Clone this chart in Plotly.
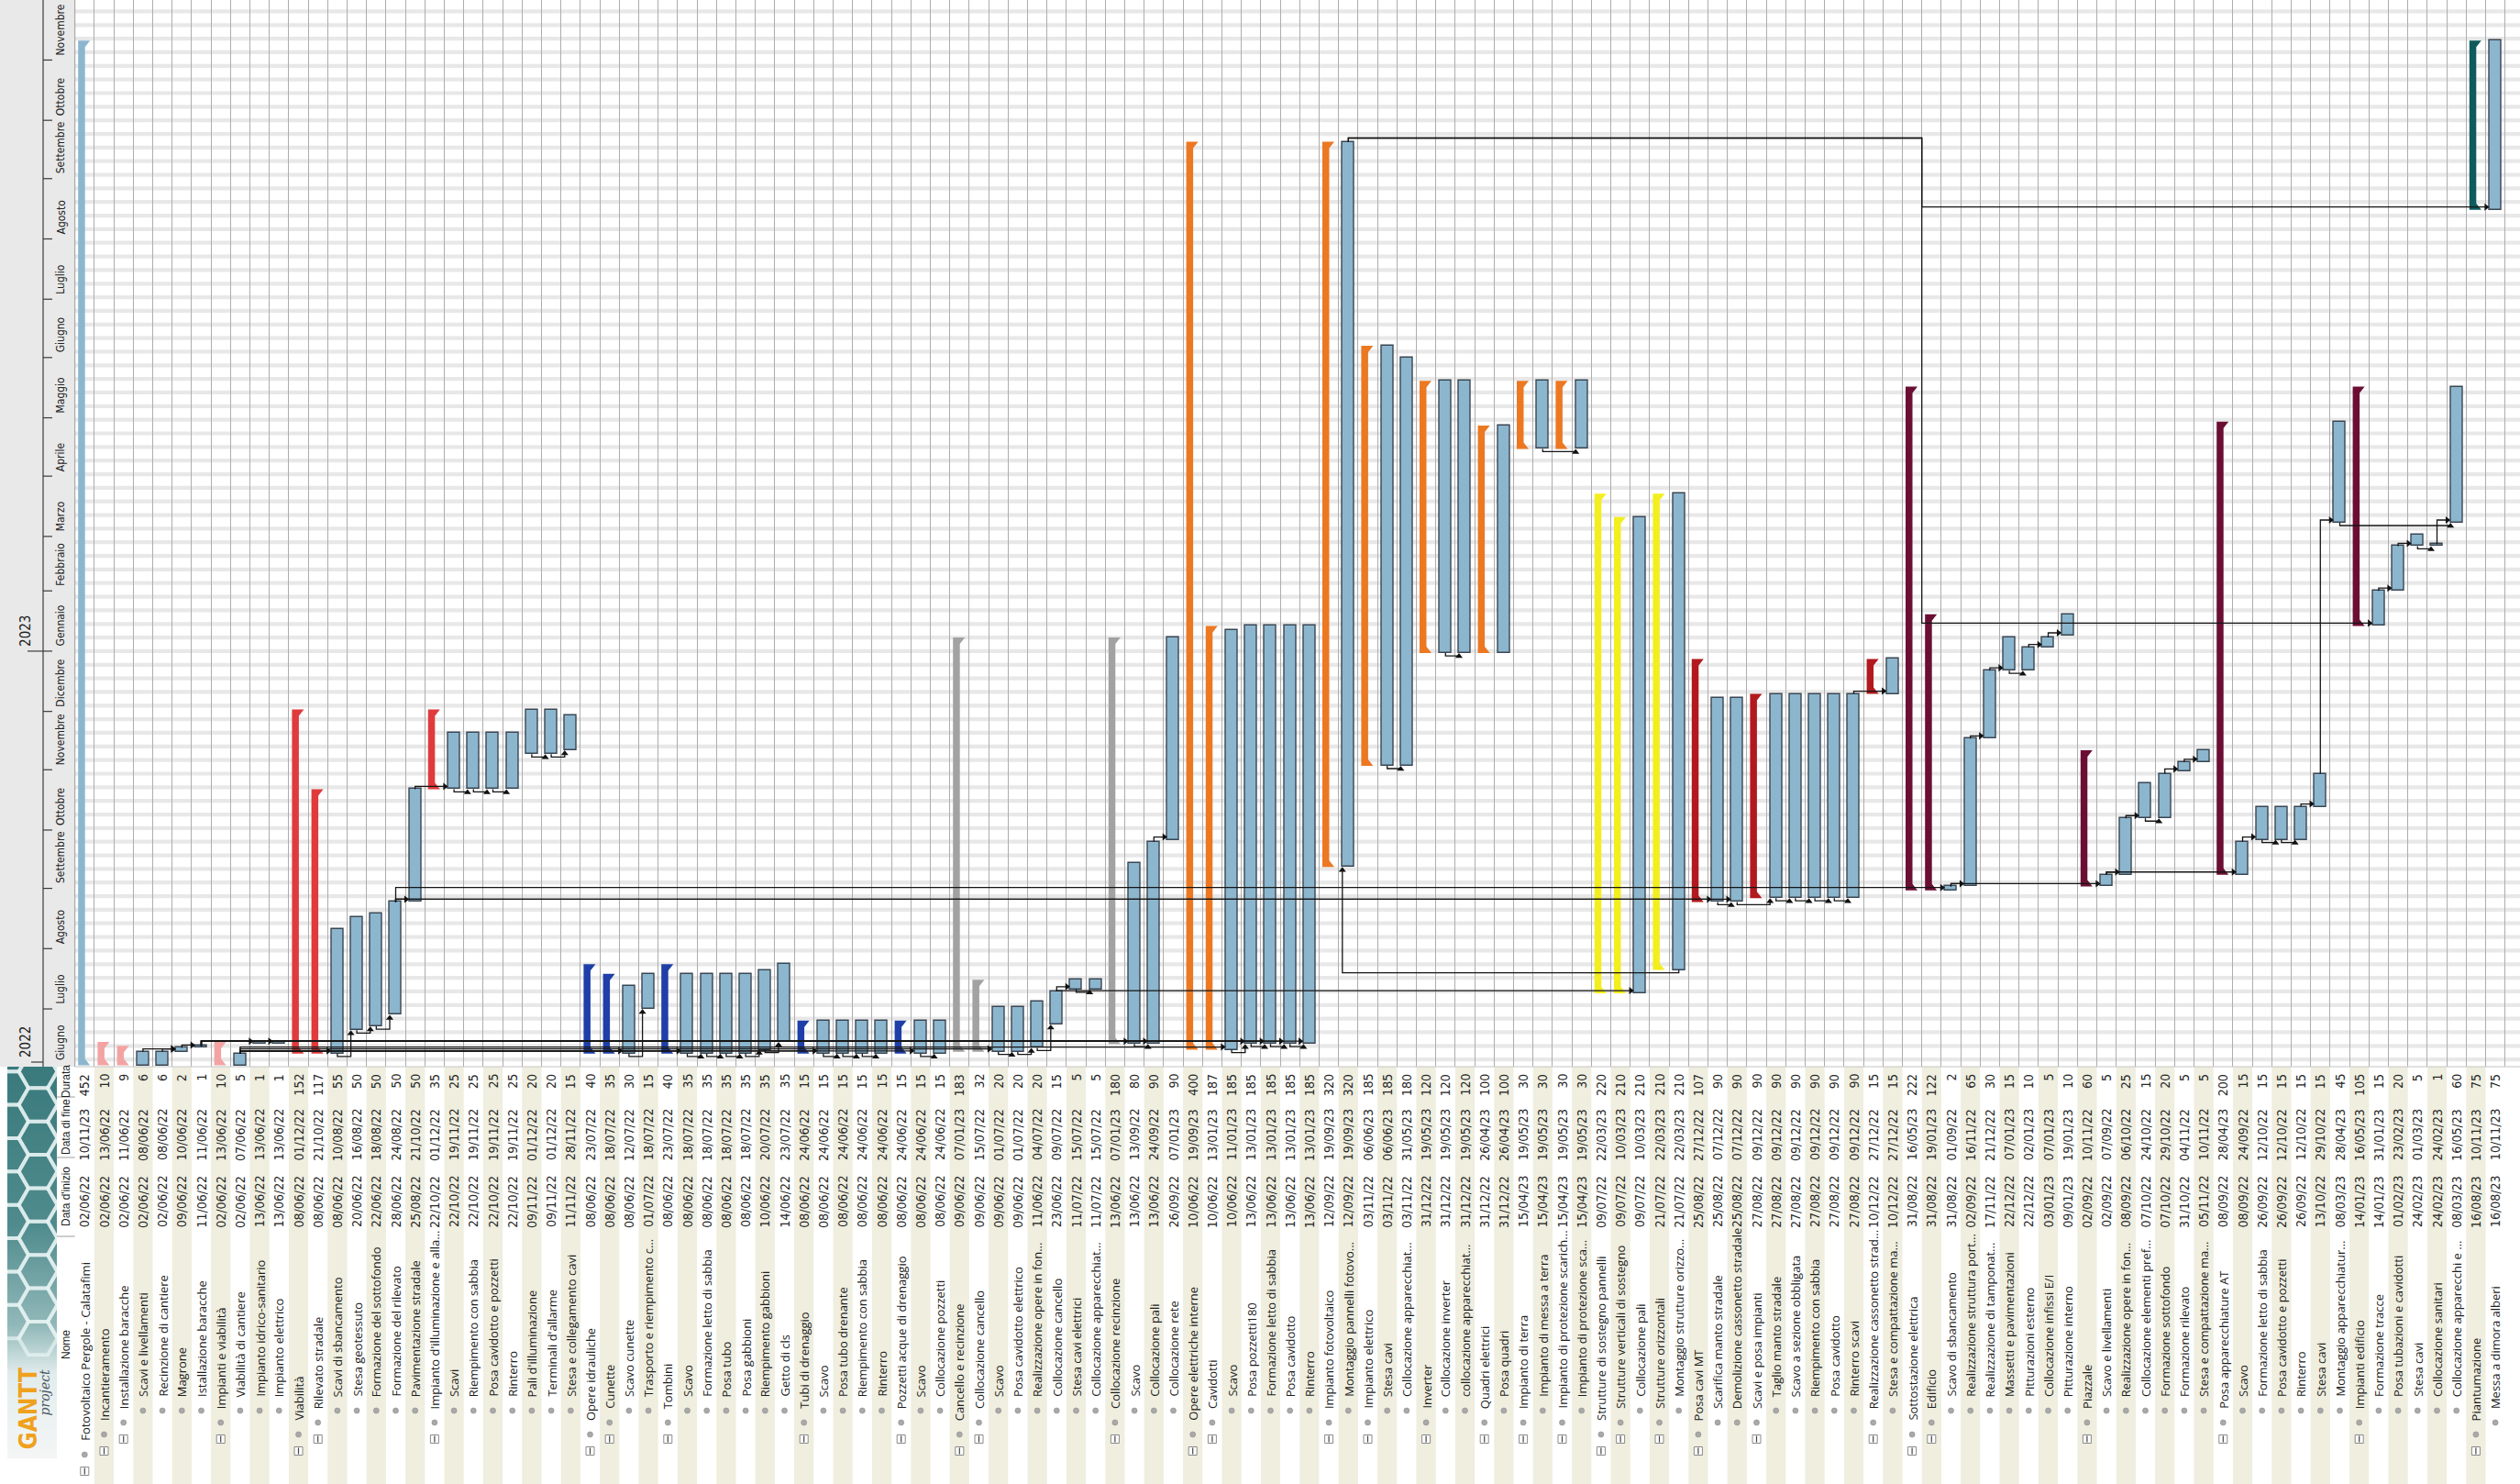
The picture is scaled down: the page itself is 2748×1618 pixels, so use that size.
import datetime as dt
import math
import plotly.graph_objects as go

W, H = 2748, 1618

# ---------------- project data ----------------
names = [
    "Fotovoltaico Pergole - Calatafimi", "Incantieramento", "Installazione baracche",
    "Scavi e livellamenti", "Recinzione di cantiere", "Magrone", "Istallazione baracche",
    "Impianti e viabilità", "Viabilità di cantiere", "Impianto idrico-sanitario", "Impianto elettrico",
    "Viabilità", "Rilevato stradale", "Scavi di sbancamento", "Stesa geotessuto",
    "Formazione del sottofondo", "Formazione del rilevato", "Pavimentazione stradale",
    "Impianto d'illuminazione e alla...", "Scavi", "Riempimento con sabbia", "Posa cavidotto e pozzetti",
    "Rinterro", "Pali d'illuminazione", "Terminali d'allarme", "Stesa e collegamento cavi",
    "Opere idrauliche", "Cunette", "Scavo cunette", "Trasporto e riempimento c...", "Tombini",
    "Scavo", "Formazione letto di sabbia", "Posa tubo", "Posa gabbioni", "Riempimento gabbioni",
    "Getto di cls", "Tubi di drenaggio", "Scavo", "Posa tubo drenante", "Riempimento con sabbia",
    "Rinterro", "Pozzetti acque di drenaggio", "Scavo", "Collocazione pozzetti",
    "Cancello e recinzione", "Collocazione cancello", "Scavo", "Posa cavidotto elettrico",
    "Realizzazione opere in fon...", "Collocazione cancello", "Stesa cavi elettrici",
    "Collocazione apparecchiat...", "Collocazione recinzione", "Scavo", "Collocazione pali",
    "Collocazione rete", "Opere elettriche interne", "Cavidotti", "Scavo", "Posa pozzetti180",
    "Formazione letto di sabbia", "Posa cavidotto", "Rinterro", "Impianto fotovoltaico",
    "Montaggio pannelli fotovo...", "Impianto elettrico", "Stesa cavi", "Collocazione apparecchiat...",
    "Inverter", "Collocazione inverter", "collocazione apparecchiat...", "Quadri elettrici",
    "Posa quadri", "Impianto di terra", "Impianto di messa a terra", "Impianto di protezione scarich...",
    "Impianto di protezione sca...", "Strutture di sostegno pannelli", "Strutture verticali di sostegno",
    "Collocazione pali", "Strutture orizzontali", "Montaggio strutture orizzo...", "Posa cavi MT",
    "Scarifica manto stradale", "Demolizione cassonetto stradale", "Scavi e posa impianti",
    "Taglio manto stradale", "Scavo a sezione obbligata", "Riempimento con sabbia", "Posa cavidotto",
    "Rinterro scavi", "Realizzazione cassonetto strad...", "Stesa e compattazione ma...",
    "Sottostazione elettrica", "Edificio", "Scavo di sbancamento", "Realizzazione struttura port...",
    "Realizzazione di tamponat...", "Massetti e pavimentazioni", "Pitturazioni esterno",
    "Collocazione infissi E/I", "Pitturazione interno", "Piazzale", "Scavo e livellamenti",
    "Realizzazione opere in fon...", "Collocazione elementi pref...", "Formazione sottofondo",
    "Formazione rilevato", "Stesa e compattazione ma...", "Posa apparecchiature AT", "Scavo",
    "Formazione letto di sabbia", "Posa cavidotto e pozzetti", "Rinterro", "Stesa cavi",
    "Montaggio apparecchiatur...", "Impianti edificio", "Formazione tracce",
    "Posa tubazioni e cavidotti", "Stesa cavi", "Collocazione sanitari",
    "Collocazione apparecchi e ...", "Piantumazione", "Messa a dimora alberi",
]

levels = [0, 1, 2, 3, 3, 3, 3, 2, 3, 3, 3,
          1, 2, 3, 3, 3, 3, 3, 2, 3, 3, 3, 3, 3, 3, 3,
          1, 2, 3, 3, 2, 3, 3, 3, 3, 3, 3, 2, 3, 3, 3, 3, 2, 3, 3,
          1, 2, 3, 3, 3, 3, 3, 3, 2, 3, 3, 3,
          1, 2, 3, 3, 3, 3, 3, 2, 3, 2, 3, 3, 2, 3, 3, 2, 3, 2, 3, 2, 3,
          1, 2, 3, 2, 3,
          1, 2, 2, 2, 3, 3, 3, 3, 3, 2, 3,
          1, 2, 3, 3, 3, 3, 3, 3, 3, 2, 3, 3, 3, 3, 3, 3, 2, 3, 3, 3, 3, 3, 3, 2, 3, 3, 3, 3, 3,
          1, 2]

starts = [
    "02/06/22", "02/06/22", "02/06/22", "02/06/22", "02/06/22", "09/06/22", "11/06/22", "02/06/22",
    "02/06/22", "13/06/22", "13/06/22",
    "08/06/22", "08/06/22", "08/06/22", "20/06/22", "22/06/22", "28/06/22", "25/08/22", "22/10/22",
    "22/10/22", "22/10/22", "22/10/22", "22/10/22", "09/11/22", "09/11/22", "11/11/22",
    "08/06/22", "08/06/22", "08/06/22", "01/07/22", "08/06/22", "08/06/22", "08/06/22", "08/06/22",
    "08/06/22", "10/06/22", "14/06/22", "08/06/22", "08/06/22", "08/06/22", "08/06/22", "08/06/22",
    "08/06/22", "08/06/22", "08/06/22",
    "09/06/22", "09/06/22", "09/06/22", "09/06/22", "11/06/22", "23/06/22", "11/07/22", "11/07/22",
    "13/06/22", "13/06/22", "13/06/22", "26/09/22",
    "10/06/22", "10/06/22", "10/06/22", "13/06/22", "13/06/22", "13/06/22", "13/06/22", "12/09/22",
    "12/09/22", "03/11/22", "03/11/22", "03/11/22", "31/12/22", "31/12/22", "31/12/22", "31/12/22",
    "31/12/22", "15/04/23", "15/04/23", "15/04/23", "15/04/23",
    "09/07/22", "09/07/22", "09/07/22", "21/07/22", "21/07/22",
    "25/08/22", "25/08/22", "25/08/22", "27/08/22", "27/08/22", "27/08/22", "27/08/22", "27/08/22",
    "27/08/22", "10/12/22", "10/12/22",
    "31/08/22", "31/08/22", "31/08/22", "02/09/22", "17/11/22", "22/12/22", "22/12/22", "03/01/23",
    "09/01/23", "02/09/22", "02/09/22", "08/09/22", "07/10/22", "07/10/22", "31/10/22", "05/11/22",
    "08/09/22", "08/09/22", "26/09/22", "26/09/22", "26/09/22", "13/10/22", "08/03/23", "14/01/23",
    "14/01/23", "01/02/23", "24/02/23", "24/02/23", "08/03/23",
    "16/08/23", "16/08/23",
]

ends = [
    "10/11/23", "13/06/22", "11/06/22", "08/06/22", "08/06/22", "10/06/22", "11/06/22", "13/06/22",
    "07/06/22", "13/06/22", "13/06/22",
    "01/12/22", "21/10/22", "10/08/22", "16/08/22", "18/08/22", "24/08/22", "21/10/22", "01/12/22",
    "19/11/22", "19/11/22", "19/11/22", "19/11/22", "01/12/22", "01/12/22", "28/11/22",
    "23/07/22", "18/07/22", "12/07/22", "18/07/22", "23/07/22", "18/07/22", "18/07/22", "18/07/22",
    "18/07/22", "20/07/22", "23/07/22", "24/06/22", "24/06/22", "24/06/22", "24/06/22", "24/06/22",
    "24/06/22", "24/06/22", "24/06/22",
    "07/01/23", "15/07/22", "01/07/22", "01/07/22", "04/07/22", "09/07/22", "15/07/22", "15/07/22",
    "07/01/23", "13/09/22", "24/09/22", "07/01/23",
    "19/09/23", "13/01/23", "11/01/23", "13/01/23", "13/01/23", "13/01/23", "13/01/23", "19/09/23",
    "19/09/23", "06/06/23", "06/06/23", "31/05/23", "19/05/23", "19/05/23", "19/05/23", "26/04/23",
    "26/04/23", "19/05/23", "19/05/23", "19/05/23", "19/05/23",
    "22/03/23", "10/03/23", "10/03/23", "22/03/23", "22/03/23",
    "27/12/22", "07/12/22", "07/12/22", "09/12/22", "09/12/22", "09/12/22", "09/12/22", "09/12/22",
    "09/12/22", "27/12/22", "27/12/22",
    "16/05/23", "19/01/23", "01/09/22", "16/11/22", "21/12/22", "07/01/23", "02/01/23", "07/01/23",
    "19/01/23", "10/11/22", "07/09/22", "06/10/22", "24/10/22", "29/10/22", "04/11/22", "10/11/22",
    "28/04/23", "24/09/22", "12/10/22", "12/10/22", "12/10/22", "29/10/22", "28/04/23", "16/05/23",
    "31/01/23", "23/02/23", "01/03/23", "24/02/23", "16/05/23",
    "10/11/23", "10/11/23",
]

durations = [452, 10, 9, 6, 6, 2, 1, 10, 5, 1, 1,
             152, 117, 55, 50, 50, 50, 50, 35, 25, 25, 25, 25, 20, 20, 15,
             40, 35, 30, 15, 40, 35, 35, 35, 35, 35, 35, 15, 15, 15, 15, 15, 15, 15, 15,
             183, 32, 20, 20, 20, 15, 5, 5, 180, 80, 90, 90,
             400, 187, 185, 185, 185, 185, 185, 320, 320, 185, 185, 180, 120, 120, 120, 100, 100,
             30, 30, 30, 30,
             220, 210, 210, 210, 210,
             107, 90, 90, 90, 90, 90, 90, 90, 90, 15, 15,
             222, 122, 2, 65, 30, 15, 10, 5, 10, 60, 5, 25, 15, 20, 5, 5, 200, 15, 15, 15, 15, 15, 45,
             105, 15, 20, 5, 1, 60,
             75, 75]

# task links: (predecessor row, successor row, type)
deps = [
    (4, 6, "FS"), (5, 6, "FS"), (6, 7, "FS"), (7, 10, "FS"), (7, 11, "FS"),
    (9, 14, "FS"), (9, 29, "FS"), (9, 32, "FS"), (9, 39, "FS"), (9, 44, "FS"), (9, 48, "FS"), (9, 60, "FS"),
    (7, 55, "FS"), (7, 56, "FS"), (7, 61, "FS"), (7, 62, "FS"), (7, 63, "FS"), (7, 64, "FS"),
    (14, 15, "SS"), (15, 16, "SS"), (16, 17, "SS"), (17, 18, "FS"),
    (17, 85, "FS"), (17, 86, "FS"), (17, 97, "FS"),
    (18, 20, "FS"), (20, 21, "SS"), (21, 22, "SS"), (22, 23, "SS"), (24, 25, "SS"), (25, 26, "SS"),
    (29, 30, "SS"),
    (32, 33, "SS"), (33, 34, "SS"), (34, 35, "SS"), (35, 36, "SS"), (36, 37, "SS"),
    (39, 40, "SS"), (40, 41, "SS"), (41, 42, "SS"), (44, 45, "SS"),
    (48, 49, "SS"), (49, 50, "SS"), (50, 51, "SS"), (51, 52, "FS"), (52, 53, "SS"),
    (55, 56, "SS"), (56, 57, "FS"),
    (60, 61, "SS"), (61, 62, "SS"), (62, 63, "SS"), (63, 64, "SS"),
    (51, 81, "FS"), (83, 66, "SS"), (68, 69, "SS"), (71, 72, "SS"), (76, 78, "SS"),
    (85, 86, "SS"), (86, 88, "SS"), (88, 89, "SS"), (89, 90, "SS"), (90, 91, "SS"), (91, 92, "SS"),
    (92, 94, "FS"),
    (97, 98, "FS"), (98, 99, "FS"), (99, 100, "FS"), (100, 101, "SS"), (101, 102, "FS"), (102, 103, "FS"),
    (97, 105, "FS"), (105, 106, "FS"), (106, 107, "FS"), (107, 108, "SS"), (108, 109, "FS"), (109, 110, "FS"),
    (105, 112, "FS"), (112, 113, "FS"), (113, 114, "SS"), (114, 115, "SS"), (115, 116, "FS"), (116, 117, "FS"),
    (119, 120, "FS"), (120, 121, "FS"), (121, 122, "SS"), (122, 123, "FS"), (117, 123, "SS"),
    (66, 119, "FS"), (66, 125, "FS"),
]

group_colors = {
    "Incantieramento": "#f4a3a3",
    "Viabilità": "#e03a3c",
    "Opere idrauliche": "#1f3ea8",
    "Cancello e recinzione": "#a2a2a2",
    "Opere elettriche interne": "#ec7822",
    "Strutture di sostegno pannelli": "#f3ee1e",
    "Posa cavi MT": "#b2191e",
    "Sottostazione elettrica": "#6b0e33",
    "Piantumazione": "#0f5b5c",
}
TASK_COLOR = "#8cb6ce"
TASK_EDGE = "#3a4653"

MONTHS_IT = ["Gennaio", "Febbraio", "Marzo", "Aprile", "Maggio", "Giugno", "Luglio",
             "Agosto", "Settembre", "Ottobre", "Novembre", "Dicembre"]

# ---------------- geometry ----------------
N = len(names)
assert len(levels) == N and len(starts) == N and len(ends) == N and len(durations) == N


def parse(d):
    dd, mm, yy = d.split("/")
    return dt.datetime(2000 + int(yy), int(mm), int(dd))


S = {i + 1: parse(d) for i, d in enumerate(starts)}
E1 = {i + 1: parse(d) + dt.timedelta(days=1) for i, d in enumerate(ends)}

ROW0 = 81.7       # left edge of the first task column (px)
RP = 21.2         # width of one task column (px)
PXD = 2.12        # px per day on the time axis
D0 = dt.datetime(2022, 6, 2)
Y0PX = 1161.5     # screen row of D0
CH_BOT = 1163     # bottom edge of the timeline area (px)
XMAX = 0.5 + (W - ROW0) / RP
BAR_W = 13 / RP


def px2date(px):
    return D0 + dt.timedelta(days=(Y0PX - px) / PXD)


def xu(px):
    return px / RP


def du(px):
    return dt.timedelta(days=px / PXD)


is_sum = [i < N - 1 and levels[i + 1] > levels[i] for i in range(N)]
row_color = []
cur = None
for i in range(N):
    if levels[i] == 1:
        cur = names[i]
    row_color.append(TASK_COLOR if levels[i] == 0 else group_colors[cur])

fig = go.Figure()

# ---------------- leaf task bars ----------------
leaf = [i + 1 for i in range(N) if not is_sum[i]]
fig.add_trace(go.Bar(
    x=leaf,
    base=[S[r] for r in leaf],
    y=[(E1[r] - S[r]).total_seconds() * 1000 for r in leaf],
    width=BAR_W,
    marker=dict(color=TASK_COLOR, line=dict(color=TASK_EDGE, width=1.4)),
    hoverinfo="skip", xaxis="x", yaxis="y",
))

# ---------------- summary brackets ----------------
poly = {}
for i in range(N):
    if not is_sum[i]:
        continue
    r = i + 1
    c = row_color[i]
    xl = r - 0.5 + xu(3.5)
    xb = r - 0.5 + xu(11)
    xt = r - 0.5 + xu(16.5)
    ys, ye = S[r], E1[r]
    h = du(7)
    xs = [xl, xl, xt, xb, xb, xt, xl, None]
    yv = [ys, ye, ye, ye - h, ys + h, ys, ys, None]
    px_, py_ = poly.setdefault(c, ([], []))
    px_.extend(xs)
    py_.extend(yv)
for c, (xs, yv) in poly.items():
    fig.add_trace(go.Scatter(x=xs, y=yv, mode="lines", fill="toself", fillcolor=c,
                             line=dict(width=0, color=c), hoverinfo="skip",
                             xaxis="x", yaxis="y"))

# ---------------- dependency links ----------------
lx, ly, ax_r, ay_r, ax_u, ay_u = [], [], [], [], [], []
reach = {}
for p, s, k in deps:
    if k == "FS" and S[s] < E1[p] - dt.timedelta(days=1):
        reach[p] = max(reach.get(p, s), s)
half = BAR_W / 2
for p, s, k in deps:
    sl = s - half
    if k == "FS":
        pe = E1[p]
        ys = S[s] + du(3)
        if S[s] >= pe - dt.timedelta(days=1):
            pts = [(p, pe), (p, ys), (sl - xu(4), ys)]
        else:
            mx = (p + reach[p]) / 2
            yt = pe + du(4)
            pts = [(p, pe), (p, yt), (mx, yt), (mx, ys), (sl - xu(4), ys)]
        ax_r.append(sl - xu(3.5))
        ay_r.append(ys)
    else:
        y0 = min(S[p], S[s]) - du(3)
        pts = [(p, S[p]), (p, y0), (sl, y0), (sl, S[s] - du(3))]
        ax_u.append(sl)
        ay_u.append(S[s] - du(3.5))
    for a, b in pts:
        lx.append(a)
        ly.append(b)
    lx.append(None)
    ly.append(None)

fig.add_trace(go.Scatter(x=lx, y=ly, mode="lines", line=dict(color="#151515", width=1.3),
                         hoverinfo="skip", xaxis="x", yaxis="y"))
fig.add_trace(go.Scatter(x=ax_r, y=ay_r, mode="markers",
                         marker=dict(symbol="triangle-right", size=7, color="#111"),
                         hoverinfo="skip", xaxis="x", yaxis="y"))
fig.add_trace(go.Scatter(x=ax_u, y=ay_u, mode="markers",
                         marker=dict(symbol="triangle-up", size=7, color="#111"),
                         hoverinfo="skip", xaxis="x", yaxis="y"))

shapes = []
annotations = []

# weekend shading across the timeline
d = D0 - dt.timedelta(days=(D0.weekday() - 5) % 7)
top = px2date(0)
while d < top:
    shapes.append(dict(type="rect", xref="x", yref="y", x0=0.5, x1=XMAX, y0=d,
                       y1=d + dt.timedelta(days=2), fillcolor="#e8e8e8", line=dict(width=0),
                       layer="below"))
    d += dt.timedelta(days=7)

# ---------------- timeline header (left strip) ----------------
shapes.append(dict(type="rect", xref="paper", yref="paper", x0=0, x1=ROW0 / W,
                   y0=1 - CH_BOT / H, y1=1, fillcolor="#e9e9e9", line=dict(width=0), layer="below"))
shapes.append(dict(type="line", xref="paper", yref="paper", x0=47 / W, x1=47 / W,
                   y0=1 - CH_BOT / H, y1=1, line=dict(color="#3a3a3a", width=1.2)))
shapes.append(dict(type="line", xref="paper", yref="paper", x0=ROW0 / W, x1=ROW0 / W,
                   y0=1 - CH_BOT / H, y1=1, line=dict(color="#9a9a9a", width=1)))

TL_FONT = "Liberation Sans Narrow, DejaVu Sans Condensed, Arial Narrow, sans-serif"
m = dt.datetime(2022, 6, 1)
while m <= dt.datetime(2023, 11, 1):
    annotations.append(dict(x=66 / W, xref="paper", y=max(m, D0) + du(3), yref="y",
                            text=MONTHS_IT[m.month - 1], textangle=-90, showarrow=False,
                            xanchor="center", yanchor="bottom",
                            font=dict(family=TL_FONT, size=12, color="#222")))
    if m > D0:
        x0 = 30 if m.month == 1 else 47
        shapes.append(dict(type="line", xref="paper", yref="y", x0=x0 / W, x1=57 / W,
                           y0=m, y1=m, line=dict(color="#3a3a3a", width=1.2)))
    m = dt.datetime(m.year + (m.month // 12), m.month % 12 + 1, 1)

shapes.append(dict(type="line", xref="paper", yref="y", x0=34 / W, x1=47 / W,
                   y0=px2date(1158), y1=px2date(1158), line=dict(color="#3a3a3a", width=1.2)))
for yr, ydate in (("2022", px2date(1158)), ("2023", dt.datetime(2023, 1, 1))):
    annotations.append(dict(x=28 / W, xref="paper", y=ydate + du(3), yref="y", text=yr,
                            textangle=-90, showarrow=False, xanchor="center", yanchor="bottom",
                            font=dict(family=TL_FONT, size=15, color="#222")))

# ---------------- task table (bottom strip) ----------------
NAME_FONT = "Open Sans, Noto Sans, sans-serif"
NUM_FONT = "Liberation Sans Narrow, DejaVu Sans Condensed, Arial Narrow, sans-serif"
HEAD_FONT = "Liberation Sans, Arial, sans-serif"

for r in range(2, N + 1, 2):
    shapes.append(dict(type="rect", xref="x2", yref="y2", x0=r - 0.5, x1=r + 0.5, y0=CH_BOT,
                       y1=H, fillcolor="#efeedf", line=dict(width=0), layer="below"))
shapes.append(dict(type="line", xref="paper", yref="paper", x0=ROW0 / W, x1=1,
                   y0=1 - CH_BOT / H, y1=1 - CH_BOT / H, line=dict(color="#c4c4c4", width=1)))

TEXT_START = {0: 1573, 1: 1551, 2: 1538, 3: 1525}
bx, by, sx, sy = [], [], [], []
for i in range(N):
    r = i + 1
    lv = levels[i]
    t0 = TEXT_START[lv]
    annotations.append(dict(x=r, xref="x2", y=t0, yref="y2", text=names[i], textangle=-90,
                            showarrow=False, xanchor="center", yanchor="bottom",
                            font=dict(family=NAME_FONT, size=13, color="#1c1c1c")))
    annotations.append(dict(x=r, xref="x2", y=1310, yref="y2", text=starts[i], textangle=-90,
                            showarrow=False, xanchor="center", yanchor="middle",
                            font=dict(family=NUM_FONT, size=14, color="#262626")))
    annotations.append(dict(x=r, xref="x2", y=1237, yref="y2", text=ends[i], textangle=-90,
                            showarrow=False, xanchor="center", yanchor="middle",
                            font=dict(family=NUM_FONT, size=14, color="#262626")))
    annotations.append(dict(x=r, xref="x2", y=1169, yref="y2", text=str(durations[i]),
                            textangle=-90, showarrow=False, xanchor="center", yanchor="top",
                            font=dict(family=NUM_FONT, size=14, color="#262626")))
    bx.append(r)
    by.append(t0 + 13)
    if is_sum[i]:
        sx.append(r)
        sy.append(t0 + 31)

fig.add_trace(go.Scatter(x=bx, y=by, mode="markers",
                         marker=dict(symbol="circle", size=6, color="#a9a9a9",
                                     line=dict(color="#8c8c8c", width=0.6)),
                         hoverinfo="skip", xaxis="x2", yaxis="y2"))
fig.add_trace(go.Scatter(x=sx, y=sy, mode="markers",
                         marker=dict(symbol="square", size=9, color="white",
                                     line=dict(color="#8a8a8a", width=1)),
                         hoverinfo="skip", xaxis="x2", yaxis="y2"))
fig.add_trace(go.Scatter(x=sx, y=sy, mode="markers",
                         marker=dict(symbol="line-ns", size=5, color="#444",
                                     line=dict(color="#444", width=1.2)),
                         hoverinfo="skip", xaxis="x2", yaxis="y2"))

# column headers
shapes.append(dict(type="rect", xref="paper", yref="paper", x0=62 / W, x1=ROW0 / W,
                   y0=0, y1=1 - CH_BOT / H, fillcolor="white", line=dict(width=0), layer="below"))
for yb in (1196, 1262, 1348):
    shapes.append(dict(type="line", xref="paper", yref="paper", x0=62 / W, x1=ROW0 / W,
                       y0=1 - yb / H, y1=1 - yb / H, line=dict(color="#9c9c9c", width=1)))
for lab, yc in (("Durata", 1179), ("Data di fine", 1229), ("Data d'inizio", 1305), ("Nome", 1466)):
    annotations.append(dict(x=72 / W, xref="paper", y=1 - yc / H, yref="paper", text=lab,
                            textangle=-90, showarrow=False, xanchor="center", yanchor="middle",
                            font=dict(family=HEAD_FONT, size=12, color="#1c1c1c")))

# ---------------- GanttProject badge ----------------
gy = list(range(1163, 1593, 3))
fig.add_trace(go.Heatmap(x=[8, 62], y=gy, z=[[v, v] for v in gy], showscale=False,
                         colorscale=[[0, "#3a7a7c"], [0.4, "#4f8b8d"], [0.66, "#93b9ba"],
                                     [0.78, "#e2ecec"], [1, "#f5f6f6"]],
                         hoverinfo="skip", xaxis="x3", yaxis="y3"))
hx, hy = [], []
R = 21.0
for ci in range(-1, 4):
    for rj in range(-1, 10):
        cx = 10 + ci * 1.5 * R
        cy = 1150 + rj * math.sqrt(3) * R + (ci % 2) * math.sqrt(3) * R / 2
        if cy > 1470:
            continue
        for k in range(7):
            a = math.radians(60 * k)
            hx.append(cx + R * math.cos(a))
            hy.append(cy + R * math.sin(a))
        hx.append(None)
        hy.append(None)
fig.add_trace(go.Scatter(x=hx, y=hy, mode="lines",
                         line=dict(color="rgba(232,243,243,0.7)", width=4),
                         hoverinfo="skip", xaxis="x3", yaxis="y3"))
annotations.append(dict(x=30, xref="x3", y=1583, yref="y3", text="<b>GANTT</b>", textangle=-90,
                        showarrow=False, xanchor="center", yanchor="bottom",
                        font=dict(family=NUM_FONT, size=26, color="#efa11e")))
annotations.append(dict(x=48, xref="x3", y=1546, yref="y3", text="<i>project</i>", textangle=-90,
                        showarrow=False, xanchor="center", yanchor="bottom",
                        font=dict(family="DejaVu Serif, serif", size=14, color="#4c5a66")))

# ---------------- axes & layout ----------------
fig.update_layout(
    width=W, height=H, margin=dict(l=0, r=0, t=0, b=0),
    paper_bgcolor="white", plot_bgcolor="white", showlegend=False,
    barmode="overlay", bargap=0,
    shapes=shapes, annotations=annotations,
    xaxis=dict(domain=[ROW0 / W, 1], range=[0.5, XMAX], anchor="y",
               tickvals=[k + 0.5 for k in range(N + 1)], showticklabels=False, ticks="",
               showgrid=True, gridcolor="#adadad", gridwidth=1.3, zeroline=False,
               showline=False, fixedrange=True),
    yaxis=dict(domain=[1 - CH_BOT / H, 1], type="date", range=[px2date(CH_BOT), px2date(0)],
               anchor="x", showgrid=False, showticklabels=False, ticks="", zeroline=False,
               fixedrange=True),
    xaxis2=dict(domain=[ROW0 / W, 1], range=[0.5, XMAX], anchor="y2", visible=False,
                fixedrange=True),
    yaxis2=dict(domain=[0, 1 - CH_BOT / H], range=[H, CH_BOT], anchor="x2", visible=False,
                fixedrange=True),
    xaxis3=dict(domain=[8 / W, 62 / W], range=[8, 62], anchor="y3", visible=False,
                fixedrange=True),
    yaxis3=dict(domain=[1 - 1590 / H, 1 - CH_BOT / H], range=[1590, CH_BOT], anchor="x3",
                visible=False, fixedrange=True),
)

fig.write_html("out.html")
